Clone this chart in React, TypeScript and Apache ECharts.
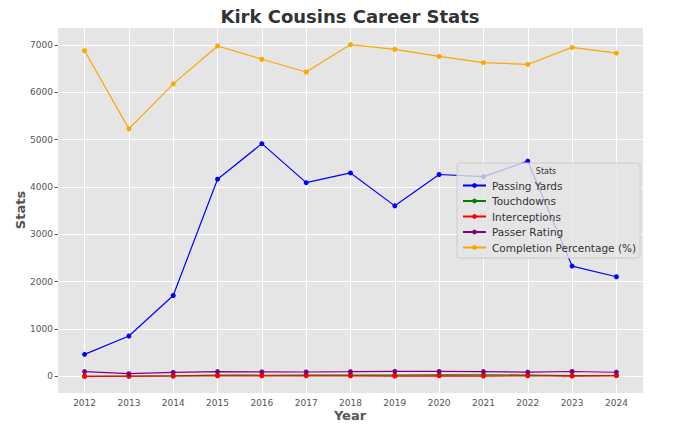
import React, { useEffect, useRef } from "react";
import * as echarts from "echarts";

const years = [2012, 2013, 2014, 2015, 2016, 2017, 2018, 2019, 2020, 2021, 2022, 2023, 2024];
const passingYards = [466, 854, 1710, 4166, 4917, 4093, 4298, 3603, 4265, 4221, 4547, 2331, 2105];
const touchdowns = [4, 4, 10, 29, 25, 27, 30, 26, 35, 33, 29, 18, 18];
const interceptions = [3, 7, 9, 11, 12, 13, 10, 6, 13, 7, 14, 5, 16];
const passerRating = [101.6, 58.4, 86.4, 101.6, 97.2, 93.9, 99.7, 107.4, 105.0, 103.1, 92.5, 103.8, 88.6];
const completionPct = [6880, 5230, 6180, 6980, 6700, 6430, 7010, 6910, 6760, 6630, 6590, 6950, 6830];
const yTicks = [0, 1000, 2000, 3000, 4000, 5000, 6000, 7000];
const seriesNames = ["Passing Yards", "Touchdowns", "Interceptions", "Passer Rating", "Completion Percentage (%)"];
const seriesColors = ["#0000ff", "#008000", "#ff0000", "#800080", "#ffa500"];

const FONT = "DejaVu Sans";

export default function App() {
  const ref = useRef<HTMLDivElement>(null);
  useEffect(() => {
    if (!ref.current) return;
    const chart = echarts.init(ref.current, undefined, { renderer: "svg" });
    const allData = [passingYards, touchdowns, interceptions, passerRating, completionPct];
    const series = allData.map((vals, i) => ({
      name: seriesNames[i],
      type: "line",
      data: years.map((y, j) => [y, vals[j]]),
      symbol: "circle",
      symbolSize: 5,
      lineStyle: { color: seriesColors[i], width: 1.2 },
      itemStyle: { color: seriesColors[i] },
      z: 2 + i,
    }));
    (series[0] as any).markLine = {
      silent: true,
      symbol: "none",
      label: { show: false },
      lineStyle: { color: "#ffffff", width: 1, type: "solid" },
      z: 1,
      data: [
        ...yTicks.map((v) => ({ yAxis: v })),
        ...years.map((v) => ({ xAxis: v })),
      ],
    };
    chart.setOption({
      animation: false,
      backgroundColor: "#ffffff",
      textStyle: { fontFamily: FONT },
      grid: { left: 58, right: 37, top: 28, bottom: 37, show: true, backgroundColor: "#e5e5e5", borderWidth: 0 },
      xAxis: {
        type: "value",
        min: 2011.4,
        max: 2024.6,
        axisLine: { show: false },
        splitLine: { show: false },
        axisTick: { show: true, length: 3.5, lineStyle: { color: "#555555" }, customValues: years },
        axisLabel: { color: "#555555", fontSize: 9, fontFamily: FONT, margin: 5, customValues: years, formatter: (v: number) => String(v) },
      },
      yAxis: {
        type: "value",
        min: -350,
        max: 7360,
        axisLine: { show: false },
        splitLine: { show: false },
        axisTick: { show: true, length: 3.5, lineStyle: { color: "#555555" }, customValues: yTicks },
        axisLabel: { color: "#555555", fontSize: 9, fontFamily: FONT, margin: 5, customValues: yTicks, formatter: (v: number) => String(v) },
      },
      legend: {
        data: seriesNames,
        orient: "vertical",
        left: 457,
        top: 163,
        padding: [16, 4, 4, 5],
        itemWidth: 23,
        itemHeight: 6,
        itemGap: 2.5,
        backgroundColor: "rgba(229,229,229,0.8)",
        borderColor: "#cccccc",
        borderWidth: 1,
        borderRadius: 3,
        textStyle: { fontSize: 10.5, color: "#333333", fontFamily: FONT, lineHeight: 13, padding: [0, 0, 0, 1] },
        z: 20,
      },
      graphic: [
        { type: "text", x: 350, y: 16, z: 30, style: { text: "Kirk Cousins Career Stats", fontSize: 18, fontWeight: "bold", fill: "#333333", fontFamily: FONT, align: "center", verticalAlign: "middle" } },
        { type: "text", x: 350, y: 415, z: 30, style: { text: "Year", fontSize: 13, fontWeight: "bold", fill: "#555555", fontFamily: FONT, align: "center", verticalAlign: "middle" } },
        { type: "text", x: 20, y: 210, rotation: Math.PI / 2, z: 30, style: { text: "Stats", fontSize: 13, fontWeight: "bold", fill: "#555555", fontFamily: FONT, align: "center", verticalAlign: "middle" } },
        { type: "text", x: 546, y: 171, z: 30, style: { text: "Stats", fontSize: 8, fill: "#333333", fontFamily: FONT, align: "center", verticalAlign: "middle" } },
      ],
      series,
    });
    return () => chart.dispose();
  }, []);
  return <div ref={ref} style={{ position: "fixed", left: 0, top: 0, width: 680, height: 430 }} />;
}
